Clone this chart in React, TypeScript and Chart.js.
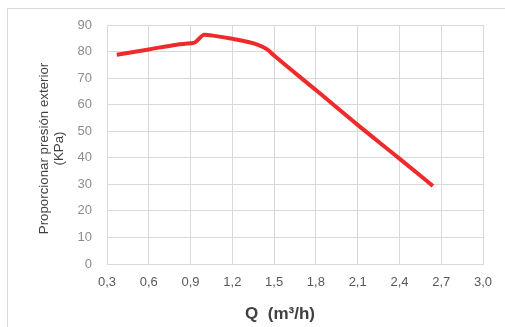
import React, { useEffect, useRef } from "react";
import { Chart, registerables } from "chart.js";

Chart.register(...registerables);

const flowQ = [0.37, 0.6, 0.8, 0.9, 0.93, 1.0, 1.06, 1.2, 1.38, 1.45, 1.5, 1.8, 2.1, 2.4, 2.64];
const pressure = [78.8, 80.8, 82.6, 83.1, 83.4, 86.3, 86.0, 84.8, 82.6, 80.8, 78.5, 65.5, 52.4, 39.7, 29.4];
const xTicks = [0.3, 0.6, 0.9, 1.2, 1.5, 1.8, 2.1, 2.4, 2.7, 3.0];
const yTicks = [0, 10, 20, 30, 40, 50, 60, 70, 80, 90];
const yTitleLines = ["Proporcionar presión exterior", "(KPa)"];
const xTitle = "Q  (m³/h)";

const FONT = "'Liberation Sans', Arial, sans-serif";

const titlePlugin = {
  id: "customTitles",
  afterDraw(chart: any) {
    const { ctx, chartArea } = chart;
    ctx.save();
    ctx.fillStyle = "#404040";
    ctx.textAlign = "center";
    ctx.textBaseline = "middle";
    ctx.font = `bold 17px ${FONT}`;
    ctx.fillText(xTitle, 280, 314);
    ctx.font = `13.3px ${FONT}`;
    const cy = (chartArea.top + chartArea.bottom) / 2 + 4;
    ctx.translate(0, cy);
    ctx.rotate(-Math.PI / 2);
    ctx.fillText(yTitleLines[0], 0, 44);
    ctx.fillText(yTitleLines[1], 0, 59);
    ctx.restore();
  },
};

export default function App() {
  const ref = useRef<HTMLCanvasElement>(null);
  useEffect(() => {
    const chart = new Chart(ref.current!, {
      type: "line",
      data: {
        datasets: [
          {
            data: flowQ.map((q, i) => ({ x: q, y: pressure[i] })),
            borderColor: "#ee2a2a",
            borderWidth: 4,
            pointRadius: 0,
            cubicInterpolationMode: "monotone",
            fill: false,
          },
        ],
      },
      options: {
        animation: false,
        responsive: false,
        layout: { padding: { top: 25, right: 22, left: 0, bottom: 0 } },
        plugins: { legend: { display: false }, tooltip: { enabled: false } },
        scales: {
          x: {
            type: "linear",
            min: 0.3,
            max: 3.0,
            afterBuildTicks: (s: any) => {
              s.ticks = xTicks.map((v) => ({ value: v }));
            },
            afterFit: (s: any) => {
              s.height = 63;
            },
            grid: { color: "#d9d9d9", drawTicks: false, lineWidth: 1 },
            border: { color: "#d9d9d9" },
            ticks: {
              padding: 11,
              color: "#595959",
              font: { family: FONT, size: 13 },
              maxRotation: 0,
              callback: (v: any) => Number(v).toFixed(1).replace(".", ","),
            },
          },
          y: {
            min: 0,
            max: 90,
            afterBuildTicks: (s: any) => {
              s.ticks = yTicks.map((v) => ({ value: v }));
            },
            afterFit: (s: any) => {
              s.width = 107;
            },
            grid: { color: "#d9d9d9", drawTicks: false, lineWidth: 1 },
            border: { color: "#d9d9d9" },
            ticks: {
              padding: 15,
              color: "#8c8c8c",
              font: { family: FONT, size: 13 },
            },
          },
        },
      },
      plugins: [titlePlugin],
    } as any);
    return () => chart.destroy();
  }, []);
  return (
    <div style={{ position: "fixed", left: 0, top: 0, width: 505, height: 327, background: "#fff", overflow: "hidden" }}>
      <div
        style={{
          position: "absolute",
          left: 7,
          top: 8,
          width: 520,
          height: 340,
          border: "1px solid #d9d9d9",
          boxSizing: "border-box",
        }}
      />
      <canvas ref={ref} width={505} height={327} style={{ position: "absolute", left: 0, top: 0, display: "block" }} />
    </div>
  );
}
